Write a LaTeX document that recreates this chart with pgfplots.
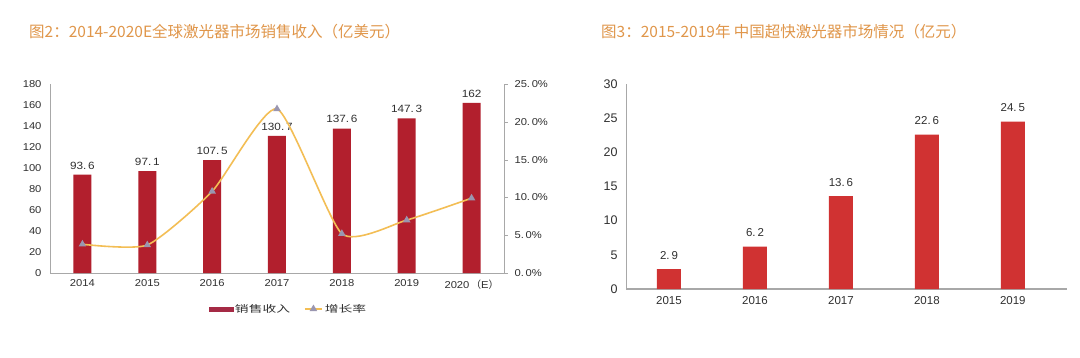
\documentclass[border=0pt]{standalone}
\usepackage{fontspec}
\setmainfont{Liberation Sans}
\newfontfamily\cjk{Noto Sans CJK SC}
\newfontfamily\cjkwide[FakeStretch=1.45]{Noto Sans CJK SC}
\newfontfamily\labw[FakeStretch=1.12]{Liberation Sans}
\usepackage{pgfplots}
\pgfplotsset{compat=1.18}
\definecolor{titleor}{HTML}{E0964A}
\definecolor{barA}{HTML}{B21F2D}
\definecolor{barB}{HTML}{D03232}
\definecolor{legbar}{HTML}{A52A45}
\definecolor{axgray}{HTML}{A8A8A8}
\definecolor{txt}{HTML}{303030}
\definecolor{lineY}{HTML}{F3BE55}
\definecolor{mk}{HTML}{9A96B0}
\pgfplotsset{every axis/.append style={/pgf/number format/assume math mode=true}}
\begin{document}
\begin{tikzpicture}
\useasboundingbox (0pt,0pt) rectangle (1080pt,357pt);
\fill[white] (0pt,0pt) rectangle (1080pt,357pt);
\node[anchor=west, text=titleor, font=\cjk\fontsize{15.5}{18}\selectfont, inner sep=0pt] at (29pt,325pt) {图2：2014-2020E全球激光器市场销售收入（亿美元）};
\node[anchor=west, text=titleor, font=\cjk\fontsize{15.5}{18}\selectfont, inner sep=0pt] at (601pt,325pt) {图3：2015-2019年 中国超快激光器市场情况（亿元）};

% Left chart: bars
\begin{axis}[
  at={(50pt,84pt)}, anchor=south west, scale only axis,
  width=454pt, height=189pt,
  xmin=-0.5, xmax=6.5, ymin=0, ymax=180,
  ytick={0,20,...,180},
  xtick={0,...,6},
  xticklabels={2014,2015,2016,2017,2018,2019,{2020\,{\cjk（}E{\cjk）}}},
  axis y line*=left, axis x line*=bottom,
  axis line style={axgray, line width=0.8pt, -},
  major tick length=0pt,
  tick label style={text=txt, font=\labw\fontsize{10}{12}\selectfont},
  xticklabel style={yshift=-3pt},
  yticklabel style={xshift=-5pt},
  ybar, bar width=18pt,
  nodes near coords, point meta=explicit symbolic,
  every node near coord/.append style={text=txt, font=\labw\fontsize{10.5}{12}\selectfont, yshift=2pt},
  clip=false,
]
\addplot[fill=barA, draw=none] coordinates {
 (0,93.6) [93.\,6]
 (1,97.1) [97.\,1]
 (2,107.5) [107.\,5]
 (3,130.7) [130.\,7]
 (4,137.6) [137.\,6]
 (5,147.3) [147.\,3]
 (6,162) [162]
};
\end{axis}

% Left chart: growth rate on secondary axis
\begin{axis}[
  at={(50pt,84pt)}, anchor=south west, scale only axis,
  width=454pt, height=189pt,
  xmin=-0.5, xmax=6.5, ymin=0, ymax=25,
  ytick={0,5,...,25},
  yticklabels={0.\,0\%,5.\,0\%,10.\,0\%,15.\,0\%,20.\,0\%,25.\,0\%},
  axis y line*=right, axis x line=none,
  axis line style={axgray, line width=0.8pt, -},
  tick align=outside, major tick length=4pt,
  tick style={axgray},
  tick label style={text=txt, font=\labw\fontsize{10}{12}\selectfont},
  yticklabel style={xshift=3pt},
  clip=false,
  legend style={draw=none, fill=none, legend columns=2, at={(0.525,-0.19)}, anchor=center,
    font=\cjkwide\fontsize{9.5}{12}\selectfont, text=txt,
    /tikz/every even column/.append style={column sep=12pt}},
]
\addlegendimage{legend image code/.code={\fill[legbar] (0pt,-2pt) rectangle (24pt,2pt);}}
\addlegendentry{销售收入}
\addplot[smooth, tension=0.35, lineY, line width=1.6pt, mark=triangle*, mark options={mk, draw=mk, scale=1.4, solid}] coordinates {
 (0,3.8) (1,3.7) (2,10.8) (3,21.7) (4,5.2) (5,7.0) (6,9.9)
};
\addlegendimage{legend image code/.code={\draw[lineY!70, line width=1.5pt] (0pt,0pt) -- (26pt,0pt); \fill[mk] (13pt,2.2pt) -- (10.5pt,-1.5pt) -- (15.5pt,-1.5pt) -- cycle;}}
\addlegendentry{增长率}
\end{axis}

% Right chart
\begin{axis}[
  at={(626pt,68pt)}, anchor=south west, scale only axis,
  width=441pt, height=205pt,
  xmin=-0.5, xmax=4.63, ymin=0, ymax=30,
  ytick={0,5,...,30},
  xtick={0,...,4},
  xticklabels={2015,2016,2017,2018,2019},
  axis y line*=left, axis x line*=bottom,
  axis line style={axgray, -},
  x axis line style={line width=1.8pt},
  y axis line style={line width=0.6pt},
  major tick length=0pt,
  tick label style={text=txt, font=\fontsize{11.5}{13}\selectfont},
  yticklabel style={xshift=-5pt, font=\fontsize{12.5}{14}\selectfont},
  xticklabel style={yshift=-4pt},
  ybar, bar width=24pt,
  nodes near coords, point meta=explicit symbolic,
  every node near coord/.append style={text=txt, font=\fontsize{11.5}{13}\selectfont, yshift=6pt},
  clip=false,
]
\addplot[fill=barB, draw=none] coordinates {
 (0,2.9) [2.\,9]
 (1,6.2) [6.\,2]
 (2,13.6) [13.\,6]
 (3,22.6) [22.\,6]
 (4,24.5) [24.\,5]
};
\end{axis}
\end{tikzpicture}
\end{document}
